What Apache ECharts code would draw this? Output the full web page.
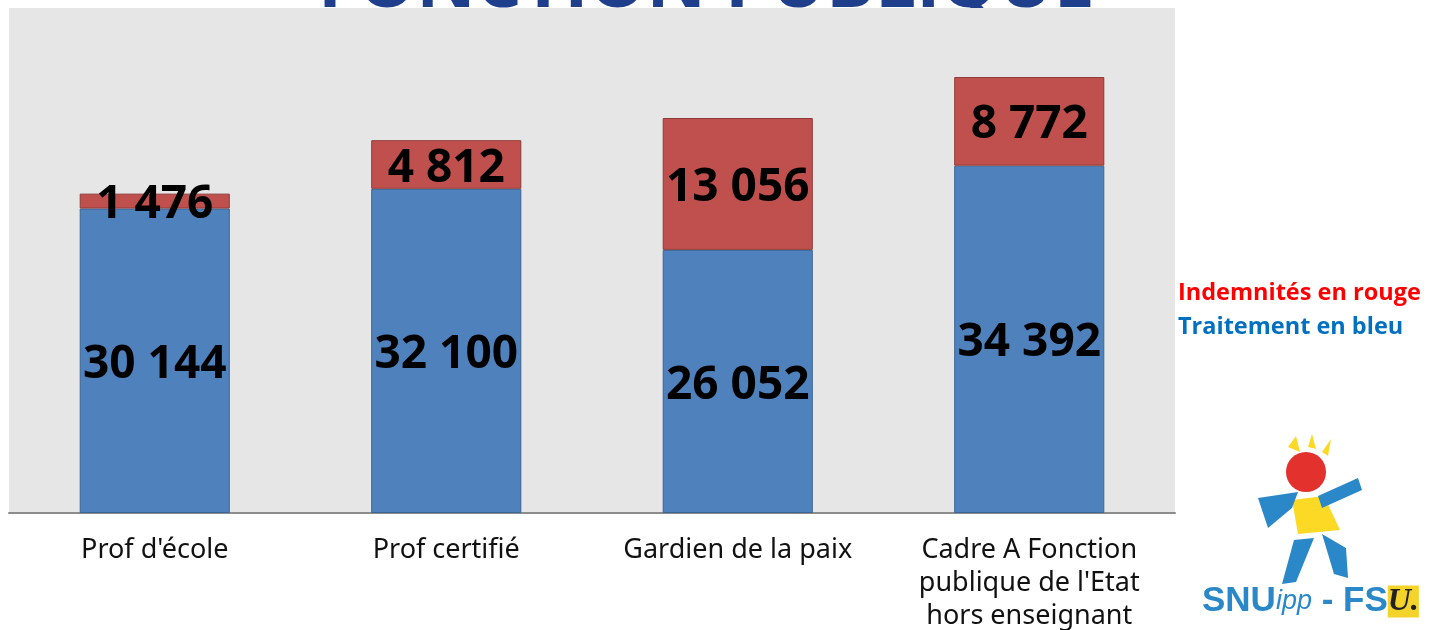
<!DOCTYPE html>
<html>
<head>
<meta charset="utf-8">
<script src="https://cdn.jsdelivr.net/npm/echarts@6/dist/echarts.min.js"></script>
<style>
  html, body { margin: 0; padding: 0; background: #fff; }
  #chart { width: 1435px; height: 630px; }
</style>
</head>
<body>
<div id="chart"></div>
<script>
// rémunération annuelle : traitement + indemnités
const categories = ['Prof d\'école', 'Prof certifié', 'Gardien de la paix', 'Cadre A Fonction\npublique de l\'Etat\nhors enseignant'];
const traitement = [30144, 32100, 26052, 34392];
const indemnites = [1476, 4812, 13056, 8772];

const fmt = v => String(v).replace(/\B(?=(\d{3})+(?!\d))/g, ' ');

const chart = echarts.init(document.getElementById('chart'));

const labelStyle = {
  show: true,
  position: 'inside',
  offset: [0, 4],
  color: '#000',
  fontFamily: 'Open Sans',
  fontWeight: 'bold',
  fontSize: 46,
  formatter: p => fmt(p.value)
};

chart.setOption({
  animation: false,
  grid: {
    left: 9, right: 260, top: 8, bottom: 117,
    outerBoundsMode: 'none', containLabel: false,
    show: true, backgroundColor: '#e6e6e6', borderWidth: 0
  },
  xAxis: {
    type: 'category',
    data: categories,
    axisLine: { lineStyle: { color: '#8c8c8c', width: 2 } },
    axisTick: { show: false },
    axisLabel: { color: '#111', fontFamily: 'Noto Sans', fontSize: 27, lineHeight: 33, margin: 21, interval: 0 }
  },
  yAxis: {
    type: 'value',
    min: 0,
    max: 50000,
    show: false,
    splitLine: { show: false }
  },
  series: [
    {
      name: 'Traitement',
      type: 'bar',
      stack: 'total',
      barWidth: '51.5%',
      data: traitement,
      itemStyle: { color: '#4f81bd', borderColor: '#3a6595', borderWidth: 1 },
      label: labelStyle
    },
    {
      name: 'Indemnités',
      type: 'bar',
      stack: 'total',
      barWidth: '51.5%',
      data: indemnites,
      itemStyle: { color: '#c0504d', borderColor: '#8e3a38', borderWidth: 1 },
      label: labelStyle
    }
  ],
  graphic: [
    {
      type: 'text', left: 318, top: -50, z: -1,
      style: { text: 'FONCTION PUBLIQUE', fontFamily: 'Open Sans', fontWeight: 'bold', fontSize: 73, fill: '#1f3f8c' }
    },
    {
      type: 'text', left: 1178, top: 281,
      style: { text: 'Indemnités en rouge', fontFamily: 'Open Sans', fontWeight: 'bold', fontSize: 23.5, fill: '#ff0000' }
    },
    {
      type: 'text', left: 1178, top: 315,
      style: { text: 'Traitement en bleu', fontFamily: 'Open Sans', fontWeight: 'bold', fontSize: 23.5, fill: '#0070c0' }
    },
    // logo simplifié
    { type: 'circle', shape: { cx: 1306, cy: 472, r: 20 }, style: { fill: '#e3312d' } },
    { type: 'polygon', shape: { points: [[1292, 500], [1324, 496], [1340, 530], [1298, 534]] }, style: { fill: '#fcd925' } },
    { type: 'polygon', shape: { points: [[1258, 498], [1298, 492], [1292, 508], [1268, 528]] }, style: { fill: '#2a88c9' } },
    { type: 'polygon', shape: { points: [[1318, 496], [1358, 478], [1362, 490], [1322, 508]] }, style: { fill: '#2a88c9' } },
    { type: 'polygon', shape: { points: [[1294, 540], [1314, 538], [1296, 582], [1282, 584]] }, style: { fill: '#2a88c9' } },
    { type: 'polygon', shape: { points: [[1322, 534], [1346, 548], [1348, 578], [1334, 574]] }, style: { fill: '#2a88c9' } },
    { type: 'polygon', shape: { points: [[1288, 447], [1296, 436], [1300, 452]] }, style: { fill: '#fcd925' } },
    { type: 'polygon', shape: { points: [[1308, 447], [1312, 434], [1316, 449]] }, style: { fill: '#fcd925' } },
    { type: 'polygon', shape: { points: [[1322, 452], [1331, 439], [1328, 456]] }, style: { fill: '#fcd925' } },
    {
      type: 'text', left: 1202, top: 584,
      style: {
        text: '{a|SNU}{b|ipp}{a| - FS}{c|U.}',
        rich: {
          a: { fontFamily: 'Liberation Sans', fontWeight: 'bold', fontSize: 35, fill: '#2a88c9' },
          b: { fontFamily: 'Liberation Sans', fontStyle: 'italic', fontSize: 27, fill: '#2a88c9' },
          c: { fontFamily: 'Liberation Serif', fontStyle: 'italic', fontWeight: 'bold', fontSize: 32, fill: '#222', backgroundColor: '#f4d32a' }
        }
      }
    }
  ]
});
</script>
</body>
</html>
